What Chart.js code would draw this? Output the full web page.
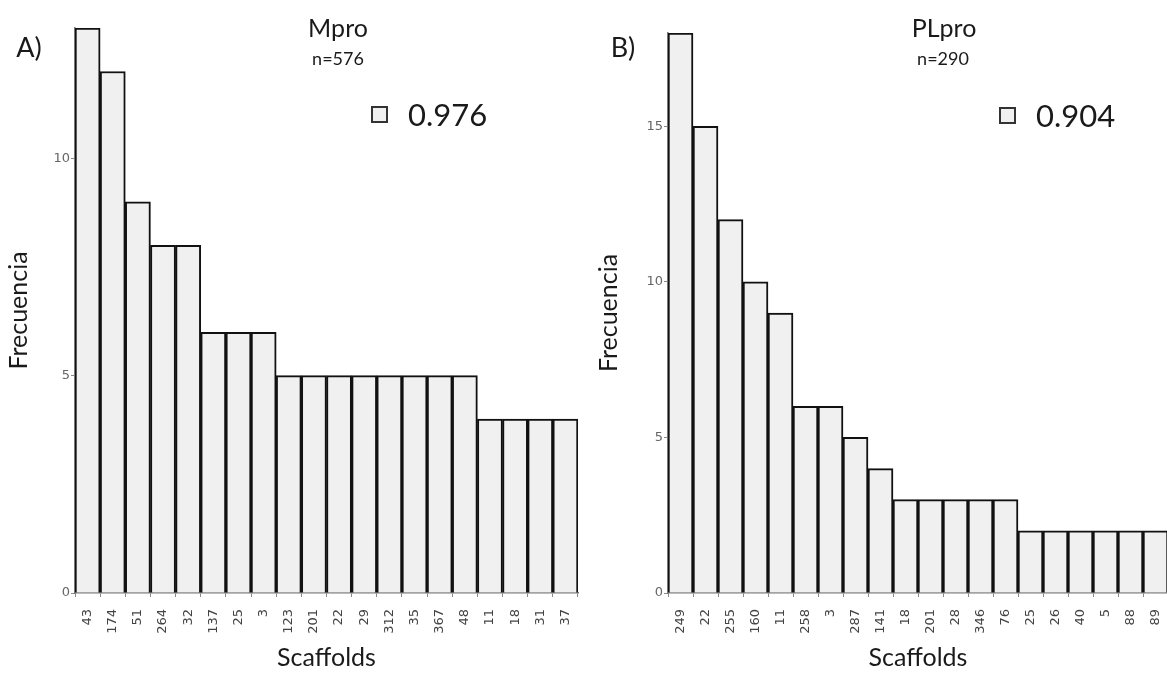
<!DOCTYPE html>
<html>
<head>
<meta charset="utf-8">
<script src="https://cdn.jsdelivr.net/npm/chart.js@4.4.1/dist/chart.umd.min.js"></script>
<style>
  body { margin: 0; background: #fff; font-family: Lato, "Open Sans", sans-serif; }
  #page { position: relative; width: 1167px; height: 673px; overflow: hidden; }
  .box { position: absolute; top: 0; height: 673px; }
  .lbl { position: absolute; color: #1a1a1a; white-space: nowrap; transform: translate(-50%, -50%); }
  .panel { font-size: 27px; }
  .ttl { font-size: 25px; }
  .sub { font-size: 18px; }
  .leg { font-size: 31px; display: flex; align-items: center; transform: translate(0, -50%); }
  .sq { width: 13px; height: 13px; border: 2px solid #333; background: #f0f0f0; margin-right: 20px; }
</style>
</head>
<body>
<div id="page">
  <div class="box" style="left:0;width:590px"><canvas id="chartA"></canvas></div>
  <div class="box" style="left:590px;width:578px"><canvas id="chartB"></canvas></div>

  <div class="lbl panel" style="left:29px;top:46px">A)</div>
  <div class="lbl ttl" style="left:338px;top:27px">Mpro</div>
  <div class="lbl sub" style="left:338px;top:58px">n=576</div>
  <div class="lbl leg" style="left:371px;top:114px"><span class="sq"></span>0.976</div>

  <div class="lbl panel" style="left:623px;top:46px">B)</div>
  <div class="lbl ttl" style="left:944px;top:27px">PLpro</div>
  <div class="lbl sub" style="left:943px;top:58px">n=290</div>
  <div class="lbl leg" style="left:999px;top:115px"><span class="sq"></span>0.904</div>
</div>
<script>
// Mpro
const scaffoldsA = ["43", "174", "51", "264", "32", "137", "25", "3", "123", "201", "22", "29", "312", "35", "367", "48", "11", "18", "31", "37"];
const freqA = [13, 12, 9, 8, 8, 6, 6, 6, 5, 5, 5, 5, 5, 5, 5, 5, 4, 4, 4, 4];

// PLpro
const scaffoldsB = ["249", "22", "255", "160", "11", "258", "3", "287", "141", "18", "201", "28", "346", "76", "25", "26", "40", "5", "88", "89"];
const freqB = [18, 15, 12, 10, 9, 6, 6, 5, 4, 3, 3, 3, 3, 3, 2, 2, 2, 2, 2, 2];

const yTicks = [0, 5, 10, 15];

function makeChart(el, labels, data, yMax, yWidth, pad) {
    return new Chart(document.getElementById(el), {
        type: "bar",
        data: {
            labels: labels,
            datasets: [{
                data: data,
                backgroundColor: "#f0f0f0",
                borderColor: "#111",
                borderWidth: 2,
                barPercentage: 1,
                categoryPercentage: 1,
            }],
        },
        options: {
            responsive: true,
            maintainAspectRatio: false,
            animation: false,
            layout: { padding: pad },
            plugins: { legend: { display: false }, tooltip: { enabled: false } },
            scales: {
                x: {
                    grid: { display: true, drawOnChartArea: false, tickLength: 4, color: "#888" },
                    border: { color: "#777", width: 1.5 },
                    ticks: {
                        minRotation: 90, maxRotation: 90, autoSkip: false, padding: 12,
                        color: "#444", font: { family: "DejaVu Sans", size: 13 },
                    },
                    title: {
                        display: true, text: "Scaffolds", color: "#1a1a1a",
                        font: { family: "Lato", size: 25 }, padding: { top: 8, bottom: 0 },
                    },
                    afterFit: (s) => {
                        s.height = 80 - pad.bottom;
                        // keep rotated labels from shrinking the plot sideways
                        s.paddingLeft = 0;
                        s.paddingRight = 0;
                    },
                },
                y: {
                    min: 0,
                    max: yMax,
                    grid: { display: true, drawOnChartArea: false, tickLength: 4, color: "#888" },
                    border: { color: "#777", width: 1.5 },
                    afterBuildTicks: (s) => {
                        s.ticks = yTicks.filter((v) => v <= yMax).map((v) => ({ value: v }));
                    },
                    ticks: {
                        padding: 1, color: "#666",
                        font: { family: "DejaVu Sans", size: 13 },
                    },
                    title: {
                        display: true, text: "Frecuencia", color: "#1a1a1a",
                        font: { family: "Lato", size: 25 }, padding: { top: 4, bottom: 0 },
                    },
                    afterFit: (s) => { s.width = yWidth; },
                },
            },
        },
    });
}

makeChart("chartA", scaffoldsA, freqA, 13, 75, { top: 28, right: 12, bottom: 0, left: 0 });
makeChart("chartB", scaffoldsB, freqB, 18, 78, { top: 33, right: 0, bottom: 0, left: 0 });
</script>
</body>
</html>
